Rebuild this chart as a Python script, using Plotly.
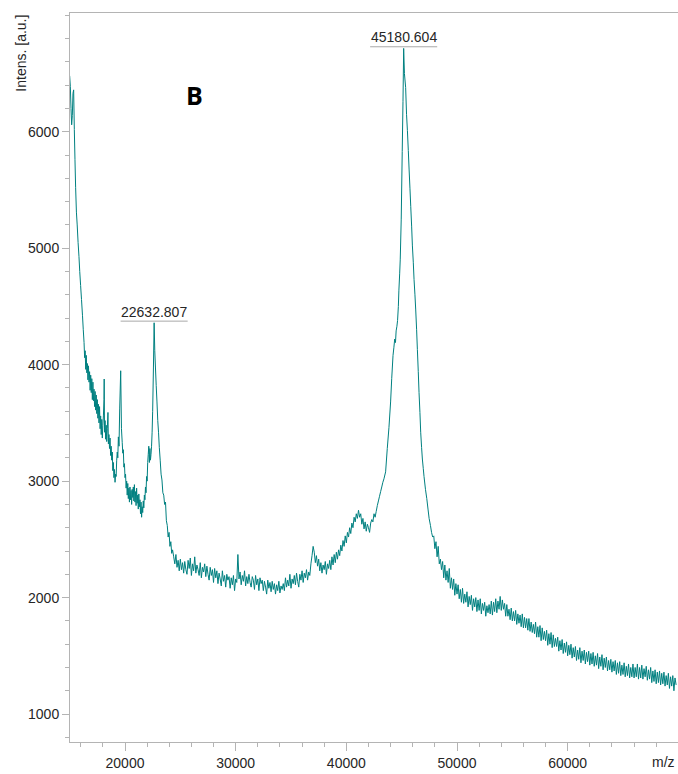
import plotly.graph_objects as go

# MALDI-TOF spectrum, m/z vs intensity, split into regions
mz_onset = [15000, 15060, 15120, 15180, 15240, 15300, 15360, 15420, 15480, 15540,
            15610, 15680, 15760, 15840, 15910, 15990, 16070, 16160, 16230]
int_onset = [6480, 6390, 6200, 6060, 6140, 6330, 6360, 6020, 5760, 5520,
             5310, 5200, 5050, 4930, 4800, 4680, 4560, 4420, 4300]

mz_low = [16300, 16350, 16400, 16450, 16500, 16550, 16600, 16650, 16700, 16750,
          16800, 16850, 16900, 16950, 17000, 17050, 17100, 17150, 17200, 17250,
          17300, 17350, 17400, 17450, 17500, 17550, 17600, 17650, 17700, 17750,
          17800, 17850, 17900, 17950, 18000, 18050, 18100, 18120, 18150, 18200,
          18250, 18300, 18350, 18400, 18460, 18500, 18550, 18600, 18650, 18700,
          18750, 18800, 18850, 18900, 18950, 19000, 19050, 19100, 19150, 19200,
          19250, 19300, 19350, 19400, 19460, 19520, 19610, 19680, 19750, 19800,
          19850, 19900, 19950, 20000, 20050, 20100, 20150, 20200, 20250, 20300,
          20350, 20400, 20450, 20500, 20550, 20600, 20650, 20700, 20750, 20800,
          20850, 20900, 20950, 21000, 21050, 21100, 21150, 21200, 21250, 21300,
          21350, 21400, 21450, 21500, 21550, 21600, 21650, 21700, 21750, 21800,
          21850, 21900, 21950, 22000, 22050, 22100, 22150, 22200, 22250, 22300,
          22350, 22400, 22450, 22500, 22570, 22632.807, 22690, 22750, 22820, 22890,
          22960, 23030, 23100, 23180, 23260, 23340, 23420, 23500, 23580, 23660,
          23740, 23820, 23900, 23980, 24060, 24140, 24220, 24300]
int_low = [4190, 4060, 4120, 3960, 4080, 3930, 4010, 3870, 3990, 3850,
           3940, 3780, 3910, 3760, 3880, 3700, 3850, 3690, 3790, 3640,
           3770, 3610, 3740, 3580, 3700, 3540, 3660, 3500, 3640, 3450,
           3560, 3400, 3530, 3370, 3480, 3560, 3700, 3877, 3420, 3520,
           3360, 3480, 3340, 3450, 3590, 3320, 3400, 3280, 3370, 3220,
           3300, 3180, 3250, 3090, 3160, 3030, 3100, 2990, 3060, 3040,
           3180, 3250, 3200, 3380, 3300, 3620, 3948, 3450, 3330, 3240,
           3270, 3120, 3150, 3030, 3060, 2940, 3000, 2880, 2980, 2850,
           2940, 2820, 2950, 2840, 2920, 2800, 2930, 2860, 2950, 2830,
           2970, 2820, 2910, 2790, 2940, 2810, 2880, 2760, 2890, 2780,
           2840, 2720, 2820, 2690, 2780, 2730, 2830, 2770, 2880, 2840,
           2950, 2900, 3040, 3000, 3160, 3230, 3300, 3160, 3280, 3180,
           3230, 3300, 3420, 3600, 3980, 4360, 4120, 3980, 3820, 3680,
           3520, 3420, 3290, 3180, 3060, 3010, 2900, 2880, 2800, 2820,
           2660, 2620, 2520, 2560, 2440, 2480, 2380, 2410]

mz_mid = [24400, 24500, 24600, 24700, 24800, 24900, 25000, 25100, 25200, 25300,
          25400, 25500, 25600, 25700, 25800, 25900, 26000, 26100, 26200, 26300,
          26400, 26500, 26600, 26700, 26800, 26900, 27000, 27100, 27200, 27300,
          27400, 27500, 27600, 27700, 27800, 27900, 28000, 28100, 28200, 28300,
          28400, 28500, 28600, 28700, 28800, 28900, 29000, 29100, 29200, 29300,
          29400, 29500, 29600, 29700, 29800, 29900, 30000, 30100, 30200, 30300,
          30400, 30500, 30600, 30700, 30800, 30900, 31000, 31100, 31200, 31300,
          31400, 31500, 31600, 31700, 31800, 31900, 32000, 32100, 32200, 32300,
          32400, 32500, 32600, 32700, 32800, 32900, 33000, 33100, 33200, 33300,
          33400, 33500, 33600, 33700, 33800, 33900, 34000, 34100, 34200, 34300,
          34400, 34500, 34600, 34700, 34800, 34900, 35000, 35100, 35200, 35300,
          35400, 35500, 35600, 35700, 35800, 35900, 36000, 36100, 36200, 36300,
          36400, 36500, 36600, 36700, 36800, 36900, 37000, 37100, 37200, 37300,
          37400, 37500, 37600, 37700, 37800, 37900, 38000, 38100, 38200, 38300,
          38400, 38500, 38600, 38700, 38800, 38900, 39000, 39100, 39200, 39300,
          39400, 39500, 39600, 39700, 39800, 39900, 40000, 40100, 40200, 40300,
          40400, 40500, 40600, 40700, 40800, 40900, 41000, 41100, 41200, 41300,
          41400, 41500, 41600, 41700, 41800, 41900, 42000, 42100, 42200, 42300,
          42400, 42500, 42600, 42700, 42800, 42900, 43000, 43100, 43200, 43300,
          43400]
int_mid = [2350, 2290, 2370, 2260, 2320, 2230, 2330, 2240, 2300, 2210,
           2310, 2240, 2200, 2320, 2250, 2340, 2190, 2290, 2230, 2350,
           2210, 2280, 2240, 2190, 2300, 2170, 2260, 2220, 2290, 2180,
           2270, 2200, 2150, 2260, 2190, 2240, 2130, 2250, 2170, 2230,
           2120, 2210, 2160, 2100, 2230, 2140, 2190, 2090, 2200, 2150,
           2180, 2080, 2170, 2110, 2190, 2060, 2160, 2130, 2370, 2160,
           2220, 2110, 2190, 2140, 2230, 2100, 2180, 2120, 2200, 2130,
           2090, 2180, 2150, 2070, 2190, 2110, 2160, 2060, 2170, 2120,
           2150, 2060, 2140, 2090, 2030, 2150, 2080, 2130, 2050, 2140,
           2070, 2120, 2030, 2110, 2060, 2140, 2040, 2100, 2070, 2120,
           2060, 2170, 2090, 2150, 2100, 2200, 2080, 2160, 2120, 2190,
           2110, 2210, 2140, 2090, 2200, 2150, 2230, 2130, 2210, 2170,
           2240, 2150, 2220, 2190, 2290, 2360, 2440, 2390, 2300, 2360,
           2270, 2330, 2230, 2300, 2210, 2280, 2240, 2310, 2200, 2290,
           2250, 2320, 2240, 2350, 2280, 2370, 2300, 2390, 2330, 2410,
           2360, 2450, 2400, 2490, 2440, 2530, 2470, 2560, 2520, 2600,
           2550, 2640, 2600, 2690, 2650, 2720, 2680, 2750, 2690, 2720,
           2630, 2680, 2590, 2650, 2570, 2630, 2600, 2560, 2640, 2670,
           2650, 2720, 2690, 2740, 2790, 2830, 2870, 2910, 2950, 2990,
           3020]

mz_main = [43550, 43700, 43850, 44000, 44100, 44220, 44300, 44370, 44440, 44500,
           44570, 44630, 44700, 44750, 44820, 44870, 44960, 45050, 45120, 45180.604,
           45250, 45360, 45440, 45520, 45600, 45670, 45750, 45820, 45900, 45970,
           46050, 46120, 46200, 46270, 46350, 46420, 46500, 46570, 46650, 46720,
           46800, 46870, 46950, 47020, 47150, 47270, 47380, 47480, 47600, 47700,
           47800]
int_main = [3080, 3280, 3460, 3680, 3880, 4080, 4150, 4220, 4190, 4290,
            4330, 4380, 4500, 4640, 4780, 4900, 5250, 5830, 6260, 6716,
            6500, 6380, 6150, 6010, 5840, 5680, 5510, 5360, 5190, 5020,
            4880, 4730, 4600, 4470, 4300, 4130, 3940, 3760, 3590, 3420,
            3290, 3190, 3110, 3040, 2930, 2850, 2760, 2680, 2620, 2560,
            2520]

mz_tail = [47900, 48000, 48100, 48200, 48300, 48400, 48500, 48600, 48700, 48800,
           48900, 49000, 49100, 49200, 49300, 49400, 49500, 49600, 49700, 49800,
           49900, 50000, 50100, 50200, 50300, 50400, 50500, 50600, 50700, 50800,
           50900, 51000, 51100, 51200, 51300, 51400, 51500, 51600, 51700, 51800,
           51900, 52000, 52100, 52200, 52300, 52400, 52500, 52600, 52700, 52800,
           52900, 53000, 53100, 53200, 53300, 53400, 53500, 53600, 53700, 53800,
           53900, 54000, 54100, 54200, 54300, 54400, 54500, 54600, 54700, 54800,
           54900, 55000, 55100, 55200, 55300, 55400, 55500, 55600, 55700, 55800,
           55900, 56000, 56100, 56200, 56300, 56400, 56500, 56600, 56700, 56800,
           56900, 57000, 57100, 57200, 57300, 57400, 57500, 57600, 57700, 57800,
           57900, 58000, 58100, 58200, 58300, 58400, 58500, 58600, 58700, 58800,
           58900, 59000, 59100, 59200, 59300, 59400, 59500, 59600, 59700, 59800,
           59900, 60000, 60100, 60200, 60300, 60400, 60500, 60600, 60700, 60800,
           60900, 61000, 61100, 61200, 61300, 61400, 61500, 61600, 61700, 61800,
           61900, 62000, 62100, 62200, 62300, 62400, 62500, 62600, 62700, 62800,
           62900, 63000, 63100, 63200, 63300, 63400, 63500, 63600, 63700, 63800,
           63900, 64000, 64100, 64200, 64300, 64400, 64500, 64600, 64700, 64800,
           64900, 65000, 65100, 65200, 65300, 65400, 65500, 65600, 65700, 65800,
           65900, 66000, 66100, 66200, 66300, 66400, 66500, 66600, 66700, 66800,
           66900, 67000, 67100, 67200, 67300, 67400, 67500, 67600, 67700, 67800,
           67900, 68000, 68100, 68200, 68300, 68400, 68500, 68600, 68700, 68800,
           68900, 69000, 69100, 69200, 69300, 69400, 69500, 69600, 69700, 69800]
int_tail = [2530, 2420, 2480, 2350, 2440, 2290, 2330, 2240, 2310, 2170,
            2280, 2150, 2230, 2130, 2250, 2080, 2170, 2070, 2160, 2020,
            2120, 2030, 2110, 1990, 2070, 1960, 2080, 1950, 2030, 1960,
            2050, 1920, 2010, 1940, 2020, 1890, 1990, 1920, 2000, 1880,
            1980, 1890, 1990, 1860, 1950, 1890, 1960, 1840, 1930, 1870,
            1940, 1860, 1970, 1850, 1960, 1880, 1990, 1870, 1970, 1900,
            2010, 1890, 1980, 1900, 1950, 1840, 1940, 1840, 1900, 1810,
            1910, 1800, 1880, 1800, 1890, 1770, 1860, 1780, 1850, 1750,
            1860, 1740, 1830, 1740, 1820, 1720, 1820, 1710, 1790, 1700,
            1770, 1690, 1790, 1660, 1750, 1660, 1760, 1630, 1740, 1640,
            1710, 1630, 1720, 1590, 1690, 1600, 1700, 1570, 1680, 1580,
            1650, 1580, 1660, 1540, 1630, 1550, 1640, 1520, 1610, 1530,
            1620, 1500, 1590, 1510, 1600, 1480, 1570, 1490, 1580, 1460,
            1550, 1470, 1570, 1440, 1540, 1460, 1550, 1430, 1530, 1450,
            1540, 1420, 1520, 1430, 1530, 1410, 1500, 1420, 1520, 1390,
            1490, 1410, 1510, 1380, 1480, 1400, 1490, 1370, 1460, 1380,
            1470, 1360, 1450, 1370, 1460, 1340, 1440, 1350, 1450, 1330,
            1420, 1340, 1440, 1320, 1410, 1330, 1430, 1310, 1400, 1320,
            1430, 1310, 1400, 1320, 1430, 1300, 1400, 1310, 1420, 1300,
            1390, 1320, 1410, 1290, 1380, 1300, 1400, 1270, 1370, 1280,
            1380, 1260, 1360, 1270, 1370, 1250, 1350, 1260, 1360, 1240,
            1330, 1250, 1350, 1220, 1320, 1240, 1330, 1200, 1310, 1250]

# labelled peaks
peak_mz = [22632.807, 45180.604]
peak_int = [4360, 6716]
peak_labels = ["22632.807", "45180.604"]

# axes
x_range = [15030, 69970]
y_range = [760, 7020]
y_ticks = [1000, 2000, 3000, 4000, 5000, 6000]

mz = mz_onset + mz_low + mz_mid + mz_main + mz_tail
intensity = int_onset + int_low + int_mid + int_main + int_tail

TEAL = "rgb(0,128,128)"
AXIS = "#b4b4b4"
TEXT = "#262626"
FONT = "Liberation Sans, Arial, sans-serif"

fig = go.Figure()
fig.add_trace(go.Scatter(
    x=mz, y=intensity, mode="lines",
    line=dict(color=TEAL, width=1, simplify=False),
    hoverinfo="x+y", showlegend=False,
))

annotations = []
shapes = []
half_width = 3030  # half the underline length in m/z units
for px, py, txt in zip(peak_mz, peak_int, peak_labels):
    annotations.append(dict(
        x=px, y=py, xref="x", yref="y", text=txt, showarrow=False,
        xanchor="center", yanchor="bottom", yshift=1,
        font=dict(family=FONT, size=14, color=TEXT),
    ))
    shapes.append(dict(
        type="line", xref="x", yref="y",
        x0=px - half_width, x1=px + half_width, y0=py + 14, y1=py + 14,
        line=dict(color="#a8a8a8", width=1),
    ))

annotations += [
    dict(text="Intens. [a.u.]", textangle=-90, xref="paper", yref="paper",
         x=-0.082, y=1.0, xanchor="center", yanchor="top", showarrow=False,
         font=dict(family=FONT, size=14, color=TEXT)),
    dict(text="m/z", xref="paper", yref="paper", x=0.998, y=-0.041,
         xanchor="right", yanchor="bottom", showarrow=False,
         font=dict(family=FONT, size=14, color=TEXT)),
    dict(text="<b>B</b>", xref="paper", yref="paper", x=0.205, y=0.8875,
         xanchor="center", yanchor="middle", showarrow=False,
         font=dict(family="Open Sans, sans-serif", size=25, color="#000000")),
]

fig.update_layout(
    width=678, height=774,
    margin=dict(l=70, r=0, t=13, b=32),
    paper_bgcolor="white", plot_bgcolor="white",
    annotations=annotations, shapes=shapes,
    font=dict(family=FONT, size=14, color=TEXT),
)
fig.update_xaxes(
    range=x_range, showgrid=False, zeroline=False,
    showline=True, linecolor=AXIS, linewidth=1, mirror=True,
    ticks="outside", ticklen=8, tickcolor=AXIS, tickwidth=1,
    dtick=10000, tick0=0, tickformat="d",
    tickfont=dict(family=FONT, size=14, color=TEXT),
    minor=dict(dtick=2000, tick0=0, ticks="outside", ticklen=4,
               tickcolor=AXIS, showgrid=False),
)
fig.update_yaxes(
    range=y_range, showgrid=False, zeroline=False,
    showline=True, linecolor=AXIS, linewidth=1,
    ticks="outside", ticklen=7, tickcolor=AXIS, tickwidth=1,
    tickmode="array", tickvals=y_ticks, ticktext=[str(v) for v in y_ticks],
    tickfont=dict(family=FONT, size=14, color=TEXT),
    minor=dict(dtick=200, tick0=0, ticks="outside", ticklen=4,
               tickcolor=AXIS, showgrid=False),
)

fig.write_html("out.html")
